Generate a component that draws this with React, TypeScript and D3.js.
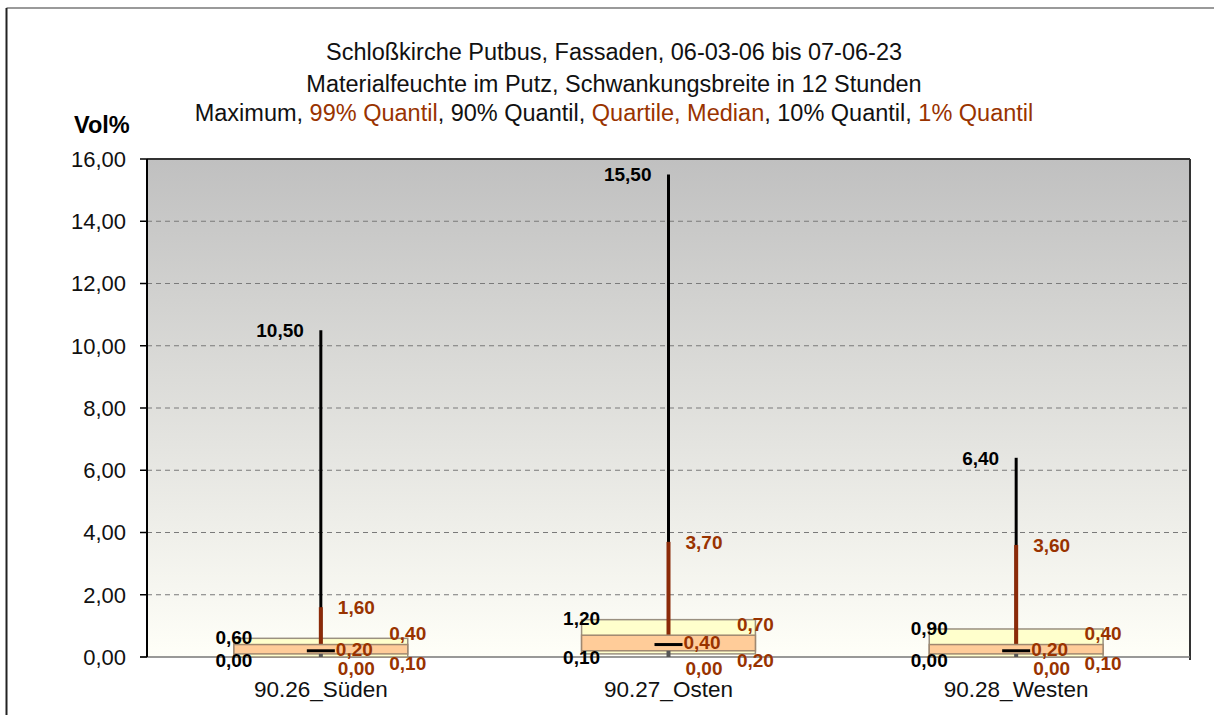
import React from "react";
import * as d3 from "d3";

// Moisture in plaster, 12-hour fluctuation range per facade (Vol%)
const categories = ["90.26_Süden", "90.27_Osten", "90.28_Westen"];
const maximum = [10.5, 15.5, 6.4];
const q99 = [1.6, 3.7, 3.6];
const q90 = [0.6, 1.2, 0.9];
const q75 = [0.4, 0.7, 0.4];
const median = [0.2, 0.4, 0.2];
const q25 = [0.1, 0.2, 0.1];
const q10 = [0.0, 0.1, 0.0];
const q01 = [0.0, 0.0, 0.0];
const yTicks = [0, 2, 4, 6, 8, 10, 12, 14, 16];

const W = 1214;
const H = 715;
const RED = "#993300";
const FONT = "'Liberation Sans', Arial, sans-serif";

const locale = d3.formatLocale({ decimal: ",", thousands: ".", grouping: [3], currency: ["", " €"] });
const fmt = locale.format(".2f");

export default function App() {
  const x = d3.scaleBand<string>().domain(categories).range([147, 1190]).padding(0);
  const y = d3.scaleLinear().domain([0, 16]).range([657, 159]);
  const bw = x.bandwidth();
  const hw = bw / 4;

  const labelStyle = { fontFamily: FONT, fontWeight: 700, fontSize: 19 } as const;

  return (
    <svg width={W} height={H} style={{ position: "absolute", left: 0, top: 0, background: "#fff" }}>
      <defs>
        <linearGradient id="plotBg" x1="0" y1="0" x2="0" y2="1">
          <stop offset="0%" stopColor="#c0c0c0" />
          <stop offset="100%" stopColor="#fffff8" />
        </linearGradient>
      </defs>

      {/* chart area frame */}
      <line x1={6.5} y1={8} x2={W} y2={8} stroke="#9a9a9a" strokeWidth={2} />
      <line x1={6.5} y1={8} x2={6.5} y2={H} stroke="#222" strokeWidth={2} />

      {/* titles */}
      <g fontFamily={FONT} fontSize={23.5} textAnchor="middle" fill="#111">
        <text x={614} y={60}>Schloßkirche Putbus, Fassaden, 06-03-06 bis 07-06-23</text>
        <text x={614} y={92}>Materialfeuchte im Putz, Schwankungsbreite in 12 Stunden</text>
        <text x={614} y={121}>
          <tspan>Maximum, </tspan>
          <tspan fill={RED}>99% Quantil</tspan>
          <tspan>, 90% Quantil, </tspan>
          <tspan fill={RED}>Quartile, Median</tspan>
          <tspan>, 10% Quantil, </tspan>
          <tspan fill={RED}>1% Quantil</tspan>
        </text>
      </g>
      <text x={74} y={133} fontFamily={FONT} fontWeight={700} fontSize={23.5} fill="#000">Vol%</text>

      {/* plot background */}
      <rect x={147} y={y(16)} width={1190 - 147} height={y(0) - y(16)} fill="url(#plotBg)" />

      {/* grid lines */}
      {yTicks.filter((t) => t > 0 && t < 16).map((t) => (
        <line key={"g" + t} x1={147} x2={1190} y1={y(t)} y2={y(t)} stroke="#7a7a7a" strokeWidth={1.2} strokeDasharray="5,4" />
      ))}

      {/* borders and axes */}
      <line x1={147} x2={1190} y1={y(16)} y2={y(16)} stroke="#333" strokeWidth={2} />
      <line x1={1190} x2={1190} y1={y(16)} y2={y(0) + 3} stroke="#333" strokeWidth={2} />
      <line x1={140} x2={1190} y1={y(0)} y2={y(0)} stroke="#777" strokeWidth={1.5} />
      <line x1={147} x2={147} y1={y(16)} y2={y(0)} stroke="#000" strokeWidth={2} />

      {/* y ticks */}
      <g fontFamily={FONT} fontSize={22} fill="#111" textAnchor="end">
        {yTicks.map((t) => (
          <g key={"t" + t}>
            <line x1={140} x2={147} y1={y(t)} y2={y(t)} stroke="#000" strokeWidth={1.5} />
            <text x={126} y={y(t)} dy="0.36em">{fmt(t)}</text>
          </g>
        ))}
      </g>

      {/* x labels */}
      <g fontFamily={FONT} fontSize={22.5} fill="#111" textAnchor="middle">
        {categories.map((c) => (
          <text key={"x" + c} x={(x(c) as number) + bw / 2} y={697}>{c}</text>
        ))}
      </g>

      {/* box plots */}
      {categories.map((c, i) => {
        const cx = (x(c) as number) + bw / 2;
        return (
          <g key={"b" + c}>
            {/* 10%–90% box */}
            <rect x={cx - hw} y={y(q90[i])} width={hw * 2} height={y(q10[i]) - y(q90[i])} fill="#ffffcc" stroke="#9a9080" strokeWidth={1.5} />
            {/* maximum whisker */}
            <line x1={cx} x2={cx} y1={y(maximum[i])} y2={y(q75[i])} stroke="#000" strokeWidth={3} />
            {/* 99% whisker */}
            <line x1={cx} x2={cx} y1={y(q99[i])} y2={y(q75[i])} stroke="#8b2a08" strokeWidth={4} />
            {/* quartile box */}
            <rect x={cx - hw} y={y(q75[i])} width={hw * 2} height={y(q25[i]) - y(q75[i])} fill="#ffcc99" stroke="#a08870" strokeWidth={1.5} />
            {/* 1% whisker */}
            <line x1={cx} x2={cx} y1={y(q25[i])} y2={y(q01[i])} stroke="#555" strokeWidth={4} />
            {/* median */}
            <line x1={cx - 14} x2={cx + 14} y1={y(median[i])} y2={y(median[i])} stroke="#000" strokeWidth={3} />

            {/* value labels */}
            <text {...labelStyle} fill="#000" x={cx - 17} y={y(maximum[i])} dy="0.36em" textAnchor="end">{fmt(maximum[i])}</text>
            <text {...labelStyle} fill={RED} x={cx + 17} y={y(q99[i])} dy="0.36em">{fmt(q99[i])}</text>
            <text {...labelStyle} fill="#000" x={cx - hw} y={y(q90[i]) - 1} dy="0.36em" textAnchor="middle">{fmt(q90[i])}</text>
            <text {...labelStyle} fill="#000" x={cx - hw} y={y(q10[i]) + 3} dy="0.36em" textAnchor="middle">{fmt(q10[i])}</text>
            <text {...labelStyle} fill={RED} x={cx + hw} y={y(q75[i]) - 11} dy="0.36em" textAnchor="middle">{fmt(q75[i])}</text>
            <text {...labelStyle} fill={RED} x={cx + hw} y={y(q25[i]) + 9} dy="0.36em" textAnchor="middle">{fmt(q25[i])}</text>
            <text {...labelStyle} fill={RED} x={cx + 15} y={y(median[i]) - 2} dy="0.36em">{fmt(median[i])}</text>
            <text {...labelStyle} fill={RED} x={cx + 17} y={y(q01[i]) + 11} dy="0.36em">{fmt(q01[i])}</text>
          </g>
        );
      })}
    </svg>
  );
}
